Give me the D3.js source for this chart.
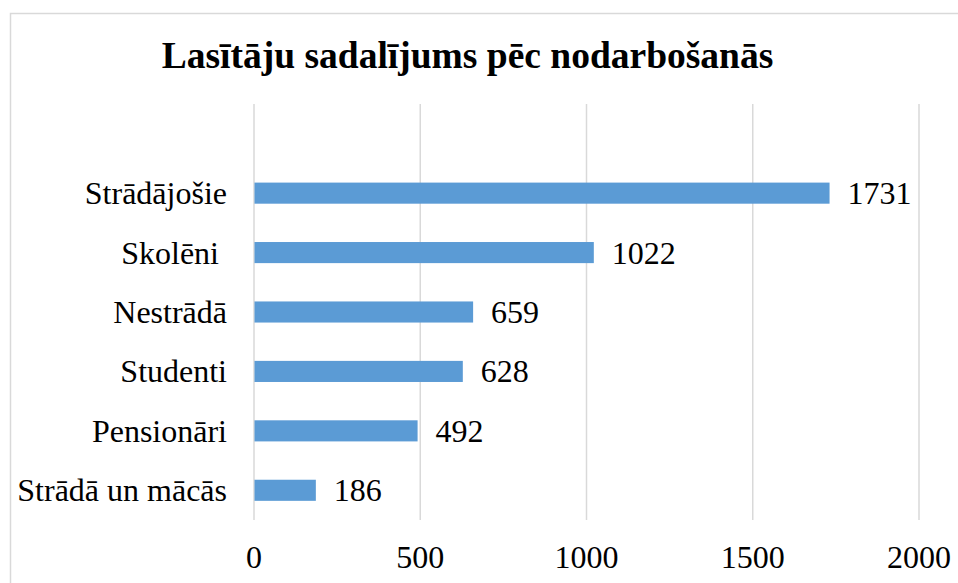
<!DOCTYPE html>
<html>
<head>
<meta charset="utf-8">
<script src="https://cdn.jsdelivr.net/npm/d3@7"></script>
<style>
  body { margin: 0; background: #fff; }
  text { font-family: "Liberation Serif", "Times New Roman", serif; fill: #000; }
</style>
</head>
<body>
<svg id="chart"></svg>
<script>
// occupations, top to bottom
var categories = ['Strādājošie', 'Skolēni ', 'Nestrādā', 'Studenti', 'Pensionāri', 'Strādā un mācās']
var values = [1731, 1022, 659, 628, 492, 186]
var xTicks = [0, 500, 1000, 1500, 2000]
var title = 'Lasītāju sadalījums pēc nodarbošanās'

var width = 958
var height = 583
var plotLeft = 254, plotRight = 919
var plotTop = 104, plotBottom = 520

var data = categories.map((c, i) => ({ name: c, value: values[i] }))

var svg = d3.select('#chart')
  .attr('width', width)
  .attr('height', height)

// chart border
svg.append('rect')
  .attr('x', 10.5)
  .attr('y', 13.5)
  .attr('width', 960)
  .attr('height', 600)
  .attr('fill', 'none')
  .attr('stroke', '#d9d9d9')
  .attr('stroke-width', 1.5)

var xScale = d3.scaleLinear()
  .domain([0, 2000])
  .range([plotLeft, plotRight])

// one empty slot above the first bar, like the original plot area
var step = (plotBottom - plotTop) / (categories.length + 1)
var yScale = d3.scaleBand()
  .domain(categories)
  .range([plotTop + step, plotBottom])
  .paddingInner(0.645)
  .paddingOuter(0.3225)

// gridlines
svg.append('g')
  .selectAll('line')
  .data(xTicks)
  .enter()
  .append('line')
    .attr('x1', d => xScale(d))
    .attr('x2', d => xScale(d))
    .attr('y1', plotTop)
    .attr('y2', plotBottom)
    .attr('stroke', '#d9d9d9')
    .attr('stroke-width', 1.5)

// x axis labels
svg.append('g')
  .selectAll('text')
  .data(xTicks)
  .enter()
  .append('text')
    .text(d => d)
    .attr('x', d => xScale(d))
    .attr('y', 568)
    .style('font-size', '32px')
    .style('text-anchor', 'middle')

var bars = svg.selectAll('.bar')
  .data(data)
  .enter()
  .append('g')
    .classed('bar', true)

bars
  .append('rect')
    .attr('x', xScale(0) + 0.5)
    .attr('y', d => yScale(d.name))
    .attr('width', d => xScale(d.value) - xScale(0) - 0.5)
    .attr('height', yScale.bandwidth())
    .attr('fill', '#5b9bd5')

bars
  .append('text')
    .text(d => d.value)
    .attr('x', d => xScale(d.value) + 18)
    .attr('y', d => yScale(d.name) + yScale.bandwidth() / 2 + 11)
    .style('font-size', '32px')

bars
  .append('text')
    .text(d => d.name)
    .attr('x', 227)
    .attr('y', d => yScale(d.name) + yScale.bandwidth() / 2 + 11)
    .style('font-size', '32px')
    .style('white-space', 'pre')
    .style('text-anchor', 'end')

svg.append('text')
  .text(title)
  .attr('x', 467.5)
  .attr('y', 68)
  .style('font-size', '37.5px')
  .style('font-weight', 'bold')
  .style('text-anchor', 'middle')
</script>
</body>
</html>
